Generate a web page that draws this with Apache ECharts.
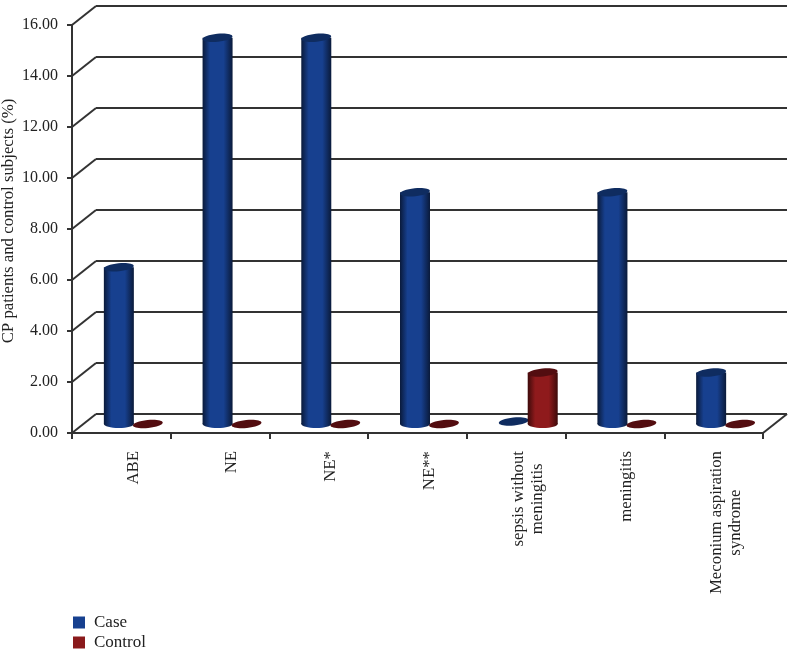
<!DOCTYPE html>
<html lang="en">
  <head>
    <meta charset="utf-8" />
    <title>CP patients and control subjects</title>
    <script src="https://cdn.jsdelivr.net/npm/echarts@6/dist/echarts.min.js"></script>
    <style>
      html, body { margin: 0; padding: 0; background: #fff; }
      #chart { width: 794px; height: 649px; }
    </style>
  </head>
  <body>
    <div id="chart"></div>
    <script>
      var categories = ['ABE', 'NE', 'NE*', 'NE**', 'sepsis without\nmeningitis', 'meningitis', 'Meconium aspiration\nsyndrome']
      var caseValues = [6.15, 15.15, 15.15, 9.09, 0.1, 9.09, 2.02]
      var controlValues = [0, 0, 0, 0, 2.02, 0, 0]
      var yTicks = [0, 2, 4, 6, 8, 10, 12, 14, 16]

      var FONT = '"Liberation Serif", serif'
      var INK = '#333333'
      // depth of the fake 3d box, px from front plane to back wall
      var DEPTH_X = 24
      var DEPTH_Y = -19

      var chart = echarts.init(document.getElementById('chart'), null, { renderer: 'canvas' })

      function cylinder (params, api, offset, edge, mid, cap) {
        var idx = api.value(0)
        var top = api.coord([idx, api.value(1)])
        var base = api.coord([idx, 0])
        var rx = 15
        var ry = 4
        var cx = top[0] + offset
        var tilt = 0.1
        var body = new echarts.graphic.LinearGradient(0, 0, 1, 0, [
          { offset: 0, color: edge },
          { offset: 0.25, color: mid },
          { offset: 0.7, color: mid },
          { offset: 1, color: edge }
        ])
        var children = []
        if (api.value(1) > 0.5) {
          children.push({
            type: 'ellipse',
            shape: { cx: cx, cy: base[1], rx: rx, ry: ry },
            style: { fill: body }
          })
          children.push({
            type: 'rect',
            shape: { x: cx - rx, y: top[1], width: rx * 2, height: base[1] - top[1] },
            style: { fill: body }
          })
        }
        children.push({
          type: 'ellipse',
          originX: cx,
          originY: top[1],
          rotation: tilt,
          shape: { cx: cx, cy: top[1], rx: rx, ry: ry },
          style: { fill: cap }
        })
        return { type: 'group', children: children }
      }

      // diagonal joining each front tick to its line on the back wall
      function wallDiagonal (params, api) {
        var p = api.coord([0, api.value(0)])
        var half = api.size([1, 0])[0] / 2
        var x = p[0] - half
        return {
          type: 'line',
          shape: { x1: x, y1: p[1], x2: x + DEPTH_X, y2: p[1] + DEPTH_Y },
          style: { stroke: INK, lineWidth: 2 }
        }
      }

      function floorDiagonal (params, api) {
        var p = api.coord([categories.length - 1, 0])
        var half = api.size([1, 0])[0] / 2
        var x = p[0] + half
        return {
          type: 'line',
          shape: { x1: x, y1: p[1], x2: x + DEPTH_X, y2: p[1] + DEPTH_Y },
          style: { stroke: INK, lineWidth: 2 }
        }
      }

      var option = {
        animation: false,
        backgroundColor: '#ffffff',
        legend: {
          orient: 'vertical',
          left: 73,
          top: 614,
          height: 60,
          padding: 0,
          itemWidth: 12,
          itemHeight: 12,
          itemGap: 3,
          icon: 'rect',
          data: ['Case', 'Control'],
          textStyle: { fontFamily: FONT, fontSize: 17, color: '#222', padding: [0, 0, 0, 4] }
        },
        grid: [
          { left: 72, right: 31, top: 25, bottom: 216, outerBoundsMode: 'none' }, // front plane: axes
          { left: 84, right: 19, top: 16, bottom: 225, outerBoundsMode: 'none' }, // mid plane: bars + category labels
          { left: 96, right: 7, top: 6, bottom: 235, outerBoundsMode: 'none' } // back wall: grid lines
        ],
        xAxis: [
          {
            gridIndex: 0,
            type: 'category',
            data: categories,
            axisLine: { lineStyle: { color: INK, width: 2 } },
            axisTick: { show: true, interval: 0, length: 6, lineStyle: { color: INK, width: 2 } },
            axisLabel: { show: false }
          },
          {
            gridIndex: 1,
            type: 'category',
            data: categories,
            axisLine: { show: false },
            axisTick: { show: false },
            axisLabel: {
              interval: 0,
              rotate: 90,
              margin: 27,
              hideOverlap: false,
              color: '#222',
              formatter: function (v) {
                return v.split('\n').map(function (l) { return '{c|' + l + '}' }).join('\n')
              },
              rich: { c: { fontFamily: FONT, fontSize: 16.8, color: '#222', align: 'center', lineHeight: 19 } }
            }
          },
          { gridIndex: 2, type: 'category', data: categories, show: false }
        ],
        yAxis: [
          {
            gridIndex: 0,
            type: 'value',
            min: 0,
            max: 16,
            interval: 2,
            name: 'CP patients and control subjects (%)',
            nameLocation: 'middle',
            nameGap: 55,
            nameMoveOverlap: false,
            nameTextStyle: { fontFamily: FONT, fontSize: 16.8, color: '#222', padding: [0, 0, 0, 16] },
            axisLine: { show: true, lineStyle: { color: INK, width: 2 } },
            axisTick: { show: true, length: 5, lineStyle: { color: INK, width: 2 } },
            axisLabel: {
              margin: 14,
              fontFamily: FONT,
              fontSize: 16,
              color: '#222',
              formatter: function (v) { return v.toFixed(2) }
            },
            splitLine: { show: false }
          },
          { gridIndex: 1, type: 'value', min: 0, max: 16, interval: 2, show: false },
          {
            gridIndex: 2,
            type: 'value',
            min: 0,
            max: 16,
            interval: 2,
            axisLine: { show: false },
            axisTick: { show: false },
            axisLabel: { show: false },
            splitLine: { show: true, lineStyle: { color: INK, width: 2 } }
          }
        ],
        series: [
          {
            type: 'custom',
            name: 'walls',
            xAxisIndex: 0,
            yAxisIndex: 0,
            silent: true,
            z: 1,
            data: yTicks.map(function (t) { return [t] }),
            encode: { y: 0 },
            renderItem: wallDiagonal
          },
          {
            type: 'custom',
            name: 'floor',
            xAxisIndex: 0,
            yAxisIndex: 0,
            silent: true,
            z: 1,
            data: [[0]],
            encode: { y: 0 },
            renderItem: floorDiagonal
          },
          {
            type: 'custom',
            name: 'Case',
            xAxisIndex: 1,
            yAxisIndex: 1,
            z: 3,
            clip: false,
            itemStyle: { color: '#17408f' },
            data: caseValues.map(function (v, i) { return [i, v] }),
            encode: { x: 0, y: 1 },
            renderItem: function (params, api) {
              return cylinder(params, api, -14.5, '#0a1a3a', '#17408f', '#0f2c60')
            }
          },
          {
            type: 'custom',
            name: 'Control',
            xAxisIndex: 1,
            yAxisIndex: 1,
            z: 4,
            clip: false,
            itemStyle: { color: '#8a1a1c' },
            data: controlValues.map(function (v, i) { return [i, v] }),
            encode: { x: 0, y: 1 },
            renderItem: function (params, api) {
              return cylinder(params, api, 14.5, '#3d0a0a', '#8f1a1c', '#530d10')
            }
          }
        ]
      }

      chart.setOption(option)
    </script>
  </body>
</html>
